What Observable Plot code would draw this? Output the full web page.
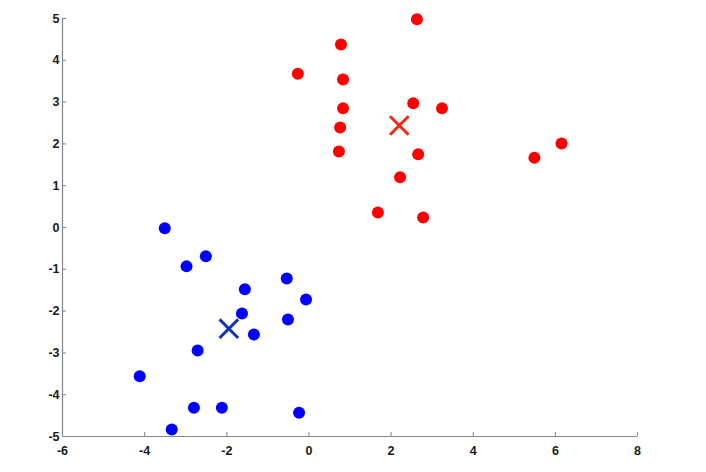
<!DOCTYPE html>
<html><head><meta charset="utf-8">
<script src="https://cdn.jsdelivr.net/npm/d3@7"></script>
<script src="https://cdn.jsdelivr.net/npm/@observablehq/plot@0.6"></script>
<style>html,body{margin:0;padding:0;background:#fff}</style>
</head><body><div id="chart"></div>
<script>
const redX = [2.63, 0.78, -0.27, 0.83, 0.83, 2.54, 3.24, 0.76, 0.73, 2.66, 5.49, 6.15, 2.22, 1.68, 2.78];
const redY = [4.98, 4.38, 3.68, 3.54, 2.85, 2.97, 2.85, 2.39, 1.82, 1.75, 1.67, 2.01, 1.20, 0.36, 0.24];
const blueX = [-3.51, -2.98, -2.51, -1.56, -0.54, -0.07, -1.63, -0.51, -1.34, -2.71, -4.12, -2.80, -2.12, -0.24, -3.34];
const blueY = [-0.02, -0.93, -0.69, -1.48, -1.22, -1.72, -2.06, -2.20, -2.56, -2.94, -3.56, -4.31, -4.31, -4.43, -4.83];
const centroidX = [2.20, -1.95];
const centroidY = [2.44, -2.42];
const centroidColor = ["#f02a10", "#1434b8"];
const xTicks = [-6, -4, -2, 0, 2, 4, 6, 8];
const yTicks = [-5, -4, -3, -2, -1, 0, 1, 2, 3, 4, 5];

const red = redX.map((x, i) => ({x, y: redY[i]}));
const blue = blueX.map((x, i) => ({x, y: blueY[i]}));
const cents = centroidX.map((x, i) => ({x, y: centroidY[i], c: centroidColor[i]}));

const W = 706, H = 472, mL = 62, mR = 69, mT = 18, mB = 36;
const axisCol = "#858585";

const chart = Plot.plot({
  width: W, height: H,
  marginLeft: mL, marginRight: mR, marginTop: mT, marginBottom: mB,
  style: {fontFamily: "'Liberation Sans', Arial, sans-serif", fontSize: "12.5px", fontWeight: "bold", color: "#1a1a1a", background: "#fff"},
  x: {domain: [-6, 8], label: null},
  y: {domain: [-5, 5], label: null},
  marks: [
    Plot.ruleY([-5], {stroke: axisCol, strokeWidth: 1.2}),
    Plot.ruleX([-6], {stroke: axisCol, strokeWidth: 1.2}),
    Plot.tickX(xTicks, {x: d => d, stroke: axisCol, insetTop: (H - mT - mB) - 4}),
    Plot.tickY(yTicks, {y: d => d, stroke: axisCol, insetRight: (W - mL - mR) - 4}),
    Plot.axisX({ticks: xTicks, tickSize: 0, tickPadding: 10, label: null, tickFormat: d => String(d).replace("−", "-")}),
    Plot.axisY({ticks: yTicks, tickSize: 0, tickPadding: 3, label: null, tickFormat: d => String(d).replace("−", "-")}),
    Plot.dot(red, {x: "x", y: "y", r: 6, fill: "#ff0000", stroke: "none"}),
    Plot.dot(blue, {x: "x", y: "y", r: 6, fill: "#0000ff", stroke: "none"}),
    Plot.dot(cents, {x: "x", y: "y", symbol: "times", r: 8.5, stroke: "c", strokeWidth: 3})
  ]
});
document.getElementById("chart").appendChild(chart);
</script>
</body></html>
